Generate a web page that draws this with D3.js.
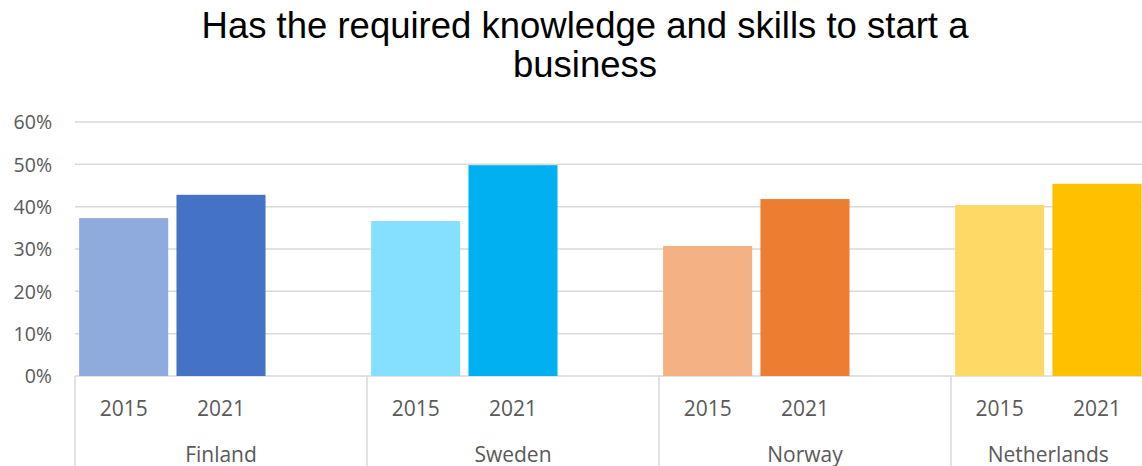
<!DOCTYPE html>
<html>
<head>
<meta charset="utf-8">
<script src="https://cdn.jsdelivr.net/npm/d3@7"></script>
<style>
  html, body { margin: 0; padding: 0; background: #fff; overflow: hidden; }
  svg { display: block; }
</style>
</head>
<body>
<svg id="chart" width="1142" height="466"></svg>
<script>
// Share of respondents who report having the knowledge and skills to start a business
const countries = ["Finland", "Sweden", "Norway", "Netherlands"];
const years = ["2015", "2021"];
const values2015 = [37.3, 36.6, 30.7, 40.4];
const values2021 = [42.8, 49.8, 41.8, 45.4];
const colors2015 = ["#8FAADC", "#85DFFF", "#F4B183", "#FFD966"];
const colors2021 = ["#4472C4", "#00B0F0", "#ED7D31", "#FFC000"];
const yTicks = [0, 10, 20, 30, 40, 50, 60];
const titleLines = ["Has the required knowledge and skills to start a", "business"];

const W = 1142, H = 466;
const margin = { left: 75, top: 122, bottom: 376 };
const svg = d3.select("#chart");

// Category slots: each country has its two years plus an empty spacer slot (none after the last)
const slots = [];
countries.forEach((c, i) => {
  years.forEach(y => slots.push({ key: c + "|" + y, country: c, year: y }));
  if (i < countries.length - 1) slots.push({ key: c + "|gap", country: c, year: null });
});

const bars = [];
countries.forEach((c, i) => {
  bars.push({ key: c + "|2015", year: "2015", value: values2015[i], color: colors2015[i] });
  bars.push({ key: c + "|2021", year: "2021", value: values2021[i], color: colors2021[i] });
});

const step = 97.33;
const x = d3.scaleBand()
  .domain(slots.map(s => s.key))
  .range([margin.left, margin.left + step * slots.length])
  .padding(0);

const y = d3.scaleLinear().domain([0, 60]).range([margin.bottom, margin.top]);

// Gridlines
svg.append("g")
  .selectAll("line")
  .data(yTicks)
  .join("line")
  .attr("x1", margin.left)
  .attr("x2", W)
  .attr("y1", d => y(d))
  .attr("y2", d => y(d))
  .attr("stroke", "#d9d9d9")
  .attr("stroke-width", 1.5);

// Y axis labels
const yAxis = d3.axisLeft(y)
  .tickValues(yTicks)
  .tickFormat(d => d + "%")
  .tickSize(0)
  .tickPadding(0);
const gy = svg.append("g")
  .attr("transform", `translate(52,0)`)
  .call(yAxis);
gy.select(".domain").remove();
gy.selectAll("text")
  .attr("font-family", "'Open Sans', sans-serif")
  .attr("font-size", 19.5)
  .attr("fill", "#595959")
  .attr("dy", "0.35em");

// Bars
const barW = x.bandwidth() * 0.915;
svg.append("g")
  .selectAll("rect")
  .data(bars)
  .join("rect")
  .attr("x", d => x(d.key) + (x.bandwidth() - barW) / 2)
  .attr("width", barW)
  .attr("y", d => y(d.value))
  .attr("height", d => y(0) - y(d.value))
  .attr("fill", d => d.color);

// Group dividers below the axis
const groupStarts = countries.map(c => x(c + "|2015"));
svg.append("g")
  .selectAll("line")
  .data(groupStarts)
  .join("line")
  .attr("x1", d => d)
  .attr("x2", d => d)
  .attr("y1", y(0))
  .attr("y2", H)
  .attr("stroke", "#d9d9d9")
  .attr("stroke-width", 1.5);

// Year labels
svg.append("g")
  .selectAll("text")
  .data(bars)
  .join("text")
  .attr("x", d => x(d.key) + x.bandwidth() / 2)
  .attr("y", 415.5)
  .attr("text-anchor", "middle")
  .attr("font-family", "'Open Sans', sans-serif")
  .attr("font-size", 21)
  .attr("fill", "#595959")
  .text(d => d.year);

// Country labels, centred on each group's slots
svg.append("g")
  .selectAll("text")
  .data(countries)
  .join("text")
  .attr("x", c => {
    const keys = slots.filter(s => s.country === c).map(s => s.key);
    const x0 = x(keys[0]);
    const x1 = x(keys[keys.length - 1]) + x.bandwidth();
    return (x0 + x1) / 2;
  })
  .attr("y", 461.5)
  .attr("text-anchor", "middle")
  .attr("font-family", "'Open Sans', sans-serif")
  .attr("font-size", 21)
  .attr("fill", "#595959")
  .text(c => c);

// Title
svg.append("g")
  .selectAll("text")
  .data(titleLines)
  .join("text")
  .attr("x", 585)
  .attr("y", (d, i) => 37.7 + i * 39.6)
  .attr("text-anchor", "middle")
  .attr("font-family", "'Liberation Sans', Arial, sans-serif")
  .attr("font-size", 36.5)
  .attr("fill", "#000")
  .text(d => d);
</script>
</body>
</html>
